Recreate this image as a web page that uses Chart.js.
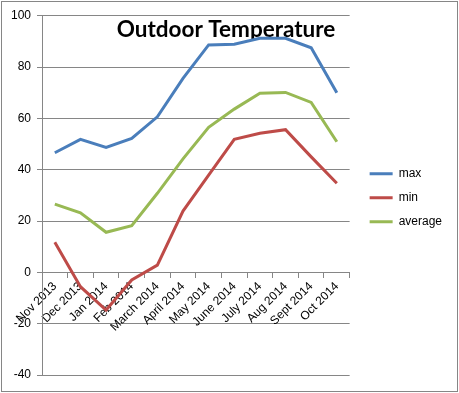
<!DOCTYPE html>
<html><head><meta charset="utf-8">
<script src="https://cdn.jsdelivr.net/npm/chart.js@4/dist/chart.umd.min.js"></script>
<style>
html,body{margin:0;padding:0;background:#fff;}
#wrap{position:relative;width:459px;height:393px;}
#frame{position:absolute;left:1px;top:1px;width:455px;height:389px;border:1px solid #868686;pointer-events:none;}
canvas{position:absolute;left:0;top:0;}
</style></head>
<body>
<div id="wrap"><canvas id="c" width="459" height="393"></canvas><div id="frame"></div></div>
<script>
const categories = ["Nov 2013","Dec 2013","Jan 2014","Feb 2014","March 2014","April 2014","May 2014","June 2014","July 2014","Aug 2014","Sept 2014","Oct 2014"];
const maxTemp = [46.6, 51.8, 48.7, 52.2, 60.6, 75.6, 88.6, 88.9, 91.2, 91.2, 87.5, 70.0];
const minTemp = [11.7, -5.6, -14.7, -3.0, 2.8, 23.9, 37.9, 51.8, 54.2, 55.6, 45.0, 34.7];
const avgTemp = [26.6, 23.2, 15.6, 18.2, 30.8, 44.2, 56.5, 63.6, 69.8, 70.1, 66.2, 50.9];
const yTicks = [-40, -20, 0, 20, 40, 60, 80, 100];

const gridColor = '#868686';
const tickFont = {family: "'Liberation Sans', Arial, sans-serif", size: 12};

new Chart(document.getElementById('c'), {
  type: 'line',
  data: {
    labels: categories,
    datasets: [
      {label: 'max', data: maxTemp, borderColor: '#4A7EBB', backgroundColor: '#4A7EBB', borderWidth: 3, pointRadius: 0, tension: 0},
      {label: 'min', data: minTemp, borderColor: '#BE4B48', backgroundColor: '#BE4B48', borderWidth: 3, pointRadius: 0, tension: 0},
      {label: 'average', data: avgTemp, borderColor: '#98B954', backgroundColor: '#98B954', borderWidth: 3, pointRadius: 0, tension: 0}
    ]
  },
  options: {
    responsive: false,
    animation: false,
    events: [],
    layout: {padding: {left: 0, top: 0, right: 7, bottom: 18}},
    plugins: {
      title: {
        display: true,
        text: 'Outdoor Temperature',
        color: '#000',
        font: {family: "Lato, 'Open Sans', sans-serif", size: 22.5, weight: 'bold', lineHeight: 1.2},
        padding: {top: 16, bottom: -27.3}
      },
      legend: {
        position: 'right',
        align: 'center',
        fullSize: false,
        maxWidth: 130,
        title: {display: true, text: ' ', font: {size: 1, lineHeight: 1}, padding: {top: 4, bottom: 0}},
        labels: {
          usePointStyle: true,
          pointStyle: 'line',
          pointStyleWidth: 23,
          padding: 12,
          color: '#000',
          font: tickFont
        }
      },
      tooltip: {enabled: false}
    },
    scales: {
      x: {
        position: {y: 0},
        offset: true,
        grid: {display: true, offset: true, drawOnChartArea: false, drawTicks: true, tickLength: 5, color: gridColor},
        border: {display: true, color: gridColor},
        ticks: {autoSkip: false, minRotation: 45, maxRotation: 45, color: '#000', font: tickFont, padding: 2}
      },
      y: {
        min: -40, max: 100,
        afterBuildTicks: (s) => { s.ticks = yTicks.map(v => ({value: v})); },
        afterFit: (s) => { s.width = 42; },
        grid: {color: gridColor, tickLength: 5},
        border: {display: true, color: gridColor},
        ticks: {color: '#000', font: tickFont, padding: 6}
      },
      pad: {
        position: 'right',
        display: true,
        grid: {display: false},
        border: {display: false},
        ticks: {display: false},
        afterFit: (s) => { s.width = 8; }
      }
    }
  }
});
</script>
</body></html>
